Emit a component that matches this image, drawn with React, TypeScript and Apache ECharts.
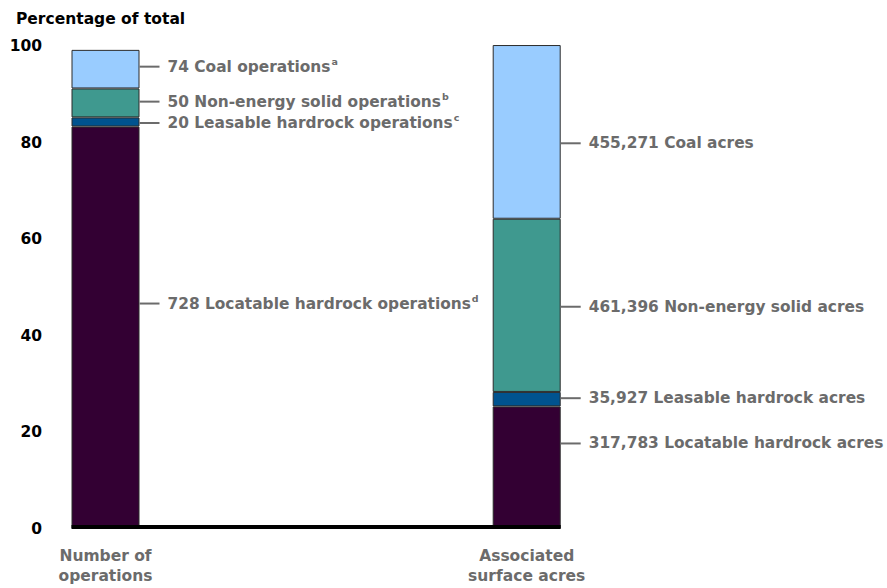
import React, { useEffect, useRef } from "react";
import * as echarts from "echarts";

const categories = ["Number of\noperations", "Associated\nsurface acres"];
const seriesNames = ["Locatable hardrock", "Leasable hardrock", "Non-energy solid", "Coal"];
// percentage of total
const operationsPct = [83.3, 1.9, 6.0, 8.0];
const acresPct = [25.3, 3.0, 35.9, 36.0];
// label values
const operationCounts = ["728", "20", "50", "74"];
const acreCounts = ["317,783", "35,927", "461,396", "455,271"];
const operationLabels = [
  "Locatable hardrock operations",
  "Leasable hardrock operations",
  "Non-energy solid operations",
  "Coal operations",
];
const acreLabels = [
  "Locatable hardrock acres",
  "Leasable hardrock acres",
  "Non-energy solid acres",
  "Coal acres",
];
const footnotes = ["d", "c", "b", "a"];
const yTicks = { min: 0, max: 100, interval: 20 };

// layout / style (not data)
const colors = ["#330033", "#00538F", "#3F998F", "#99CCFF"];
const opLabelOffsets = [-24, 1, -1.3, -2.5];
const acreLabelOffsets = [-24, -1, 1.4, 11.4];
const BAR_W = 68;
const TEXT_GRAY = "#6B6B6B";
const FONT = "'DejaVu Sans', sans-serif";

const rich = {
  ln: { width: 20, height: 2, backgroundColor: TEXT_GRAY, verticalAlign: "middle" },
  t: {
    fontFamily: FONT,
    fontWeight: "bold",
    fontSize: 15.4,
    color: TEXT_GRAY,
    lineHeight: 20,
    padding: [0, 0, 0, 8],
    verticalAlign: "middle",
  },
  s: {
    fontFamily: FONT,
    fontWeight: "bold",
    fontSize: 9.5,
    color: TEXT_GRAY,
    lineHeight: 11,
    verticalAlign: "top",
    padding: [0, 0, 0, 1],
  },
};

export default function App() {
  const ref = useRef<HTMLDivElement>(null);
  useEffect(() => {
    if (!ref.current) return;
    const chart = echarts.init(ref.current, undefined, { renderer: "svg" });
    const series = seriesNames.map((name, i) => ({
      name,
      type: "bar",
      stack: "total",
      barWidth: BAR_W,
      clip: false,
      itemStyle: { color: colors[i], borderColor: "#2b2b2b", borderWidth: 1 },
      data: [
        {
          value: operationsPct[i],
          label: {
            show: true,
            position: "right",
            distance: 0,
            offset: [0, opLabelOffsets[i]],
            formatter: `{ln|}{t|${operationCounts[i]} ${operationLabels[i]}}{s|${footnotes[i]}}`,
            rich,
          },
        },
        {
          value: acresPct[i],
          label: {
            show: true,
            position: "right",
            distance: 0,
            offset: [0, acreLabelOffsets[i]],
            formatter: `{ln|}{t|${acreCounts[i]} ${acreLabels[i]}}`,
            rich,
          },
        },
      ],
    }));
    chart.setOption({
      animation: false,
      title: {
        text: "Percentage of total",
        left: 11,
        top: 6,
        textStyle: { fontFamily: FONT, fontWeight: "bold", fontSize: 15.5, color: "#000" },
      },
      grid: { left: 105.5, right: 360.3, top: 46, bottom: 59.5 },
      xAxis: {
        type: "category",
        data: categories,
        boundaryGap: false,
        axisLine: { show: false },
        axisTick: { show: false },
        axisLabel: {
          margin: 17,
          fontFamily: FONT,
          fontWeight: "bold",
          fontSize: 15.5,
          lineHeight: 20,
          color: TEXT_GRAY,
        },
      },
      yAxis: {
        type: "value",
        min: yTicks.min,
        max: yTicks.max,
        interval: yTicks.interval,
        splitLine: { show: false },
        axisLine: { show: false },
        axisTick: { show: false },
        axisLabel: {
          margin: 63.5,
          fontFamily: FONT,
          fontWeight: "bold",
          fontSize: 15.5,
          color: "#000",
        },
      },
      series,
    });
    const p0 = chart.convertToPixel({ gridIndex: 0 }, [0, 0]) as number[];
    const p1 = chart.convertToPixel({ gridIndex: 0 }, [1, 0]) as number[];
    chart.setOption({
      graphic: [
        {
          type: "line",
          z: 100,
          shape: { x1: p0[0] - BAR_W / 2, y1: p0[1] - 1.5, x2: p1[0] + BAR_W / 2, y2: p0[1] - 1.5 },
          style: { stroke: "#000", lineWidth: 4 },
        },
      ],
    });
    return () => chart.dispose();
  }, []);
  return <div ref={ref} style={{ width: 887, height: 588, position: "absolute", left: 0, top: 0 }} />;
}
